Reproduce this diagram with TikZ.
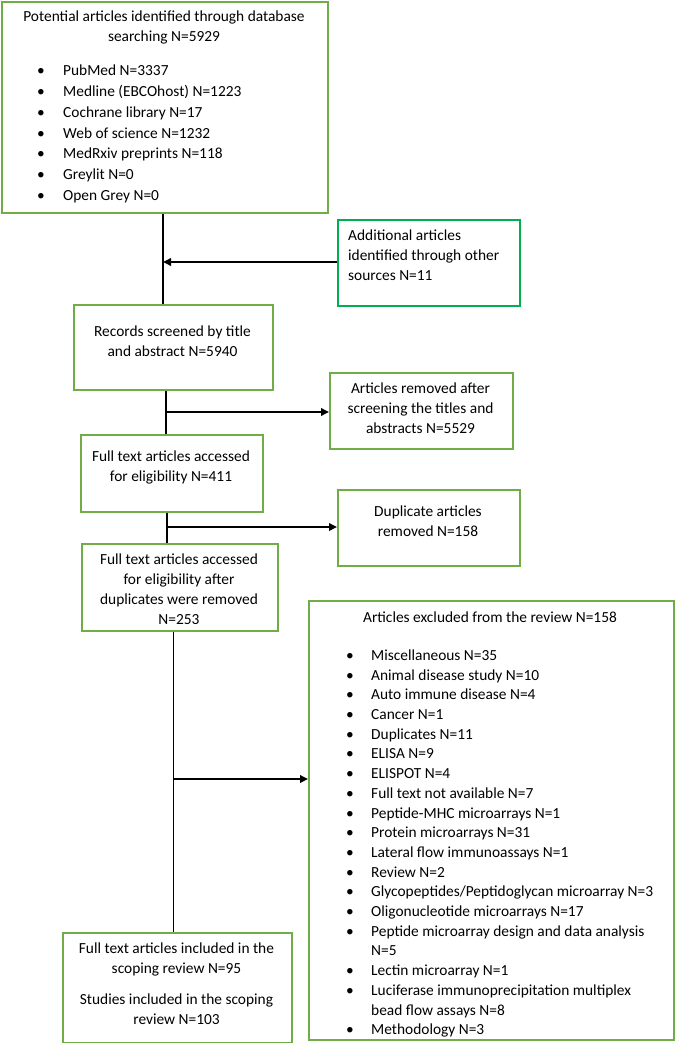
\documentclass[tikz,border=0pt]{standalone}
\usepackage{fontspec}
\setmainfont{Carlito}
\usetikzlibrary{arrows.meta,calc}
\definecolor{boxgreen}{HTML}{70AD47}
\definecolor{brightgreen}{HTML}{00B050}
\tikzset{
  box/.style={draw=boxgreen, line width=1.6pt, fill=white, inner sep=0pt, anchor=north west},
  txt/.style={inner sep=0pt, font=\fontsize{15.4}{20}\selectfont, align=center, anchor=north},
  lst/.style={inner sep=0pt, align=left, anchor=north west},
  conn/.style={draw=black, line width=1.8pt},
  arr/.style={conn, -{Triangle[length=8pt,width=7.5pt]}},
}
\newcommand{\bul}[1]{\llap{\makebox[#1][l]{\textbullet}}}
\begin{document}
\begin{tikzpicture}[x=1pt,y=-1pt]
\useasboundingbox (0,0) rectangle (678,1043);
% boxes
\node[box, minimum width=326pt, minimum height=211pt] (b1) at (1,1) {};
\node[box, draw=brightgreen, minimum width=182pt, minimum height=86pt] (b2) at (337,219) {};
\node[box, minimum width=199pt, minimum height=85pt] (b3) at (73,304) {};
\node[box, minimum width=183pt, minimum height=76pt] (b5) at (329,372) {};
\node[box, minimum width=182pt, minimum height=77pt] (b4) at (80,434) {};
\node[box, minimum width=182pt, minimum height=76pt] (b7) at (337,489) {};
\node[box, minimum width=196pt, minimum height=87pt] (b6) at (81,543) {};
\node[box, minimum width=365pt, minimum height=439pt] (b9) at (308,600) {};
\node[box, minimum width=229pt, minimum height=110pt] (b8) at (62,932) {};
% texts
\node[txt] (t1) at (164,10.5) {Potential articles identified through database\\searching N=5929};
\node[lst, font=\fontsize{15.4}{20.9}\selectfont] (l1) at (63,64.5) {%
\bul{26pt}PubMed N=3337\\
\bul{26pt}Medline (EBCOhost) N=1223\\
\bul{26pt}Cochrane library N=17\\
\bul{26pt}Web of science N=1232\\
\bul{26pt}MedRxiv preprints N=118\\
\bul{26pt}Greylit N=0\\
\bul{26pt}Open Grey N=0};
\node[lst, font=\fontsize{15.4}{20}\selectfont] (t2) at (348,229.5) {Additional articles\\identified through other\\sources N=11};
\node[txt] (t3) at (172.5,325.5) {Records screened by title\\and abstract N=5940};
\node[txt] (t5) at (420.5,382.5) {Articles removed after\\screening the titles and\\abstracts N=5529};
\node[txt] (t4) at (171,450.5) {Full text articles accessed\\for eligibility N=411};
\node[txt] (t7) at (428,506) {Duplicate articles\\removed N=158};
\node[txt] (t6) at (179,553.5) {Full text articles accessed\\for eligibility after\\duplicates were removed\\N=253};
\node[txt] (t9) at (490,611.5) {Articles excluded from the review N=158};
\node[lst, font=\fontsize{15.4}{19.7}\selectfont] (l9) at (371,649.5) {%
\bul{25pt}Miscellaneous N=35\\
\bul{25pt}Animal disease study N=10\\
\bul{25pt}Auto immune disease N=4\\
\bul{25pt}Cancer N=1\\
\bul{25pt}Duplicates N=11\\
\bul{25pt}ELISA N=9\\
\bul{25pt}ELISPOT N=4\\
\bul{25pt}Full text not available N=7\\
\bul{25pt}Peptide-MHC microarrays N=1\\
\bul{25pt}Protein microarrays N=31\\
\bul{25pt}Lateral flow immunoassays N=1\\
\bul{25pt}Review N=2\\
\bul{25pt}Glycopeptides/Peptidoglycan microarray N=3\\
\bul{25pt}Oligonucleotide microarrays N=17\\
\bul{25pt}Peptide microarray design and data analysis\\
N=5\\
\bul{25pt}Lectin microarray N=1\\
\bul{25pt}Luciferase immunoprecipitation multiplex\\
bead flow assays N=8\\
\bul{25pt}Methodology N=3};
\node[txt] (t8) at (176.5,942.5) {Full text articles included in the\\scoping review N=95\\[11pt]Studies included in the scoping\\review N=103};
% junction coordinates
\coordinate (j1) at (163,262);
\coordinate (j2) at (166,412);
\coordinate (j3) at (167,527);
\coordinate (j4) at (173.5,779);
% connectors
\draw[conn] (b1.south -| j1) -- (j1 |- b3.north);
\draw[arr] (b2.west |- j1) -- (j1);
\draw[conn] (b3.south -| j2) -- (j2 |- b4.north);
\draw[arr] (j2) -- (b5.west |- j2);
\draw[conn] (b4.south -| j3) -- (j3 |- b6.north);
\draw[arr] (j3) -- (b7.west |- j3);
\draw[conn] (b6.south -| j4) -- (j4 |- b8.north);
\draw[arr] (j4) -- (b9.west |- j4);
\end{tikzpicture}
\end{document}
